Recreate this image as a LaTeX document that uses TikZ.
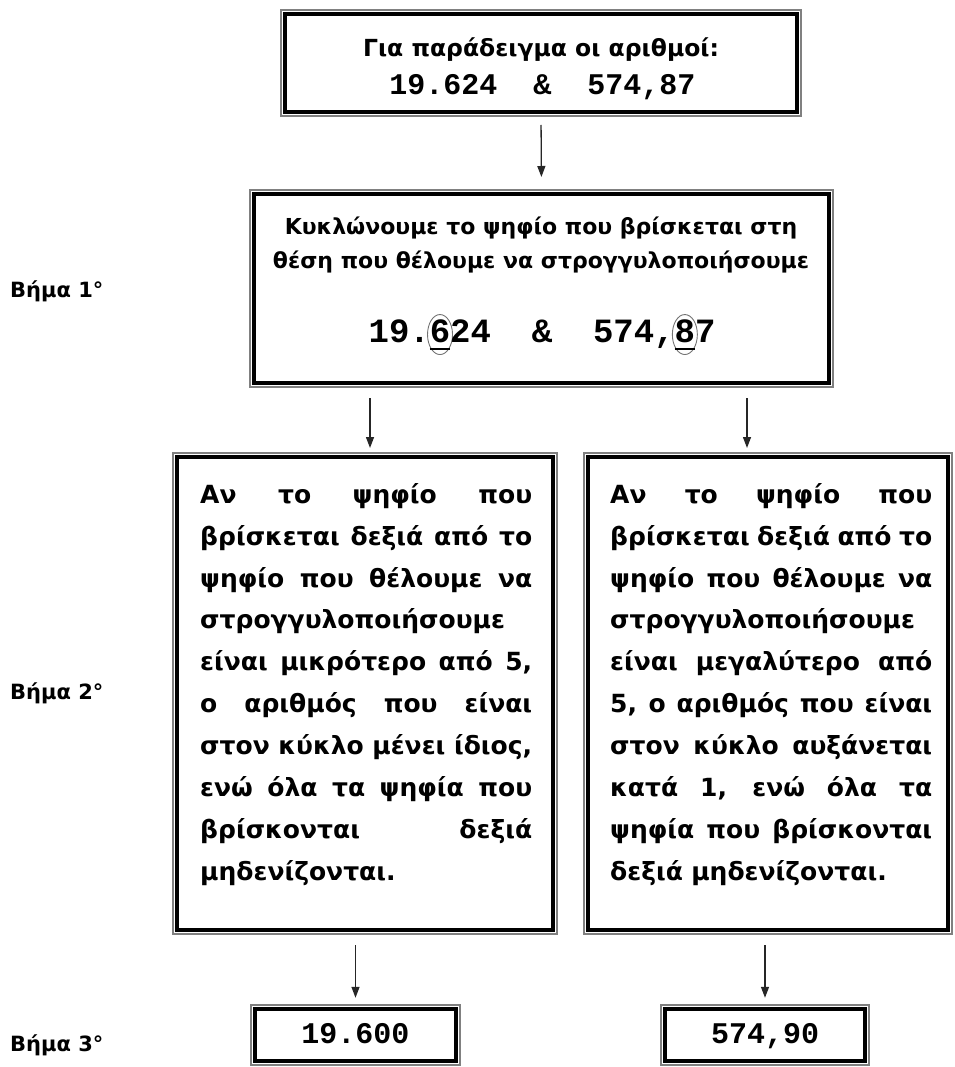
\documentclass[tikz,border=0pt]{standalone}
\usepackage{fontspec}
\setmainfont{DejaVu Sans}
\setmonofont{Liberation Mono}
\usetikzlibrary{arrows.meta,positioning,calc,shapes.geometric}
\definecolor{framegray}{gray}{0.5}
\definecolor{ringgray}{gray}{0.45}
\newcommand{\jl}[1]{\makebox[\hsize][s]{\spaceskip=0pt\xspaceskip=0pt\relax #1}}
\newcommand{\uln}[1]{\rlap{\rule[-0.23em]{0.6em}{0.055em}}#1}

\begin{document}
\begin{tikzpicture}[x=1pt, y=-1pt,
    dblframe/.style={draw=framegray, line width=1.6pt, inner sep=0pt, outer sep=0.8pt,
      path picture={\draw[black, line width=4.6pt]
        ([shift={(4.3pt,4.3pt)}]path picture bounding box.south west) rectangle
        ([shift={(-4.3pt,-4.3pt)}]path picture bounding box.north east);}},
    grk/.style={font=\bfseries\fontsize{#1}{#1}\selectfont, inner sep=0pt},
    mono/.style={font=\ttfamily\bfseries\fontsize{#1}{#1}\selectfont, inner sep=0pt, outer sep=0pt},
    para/.style={font=\bfseries\fontsize{25}{41.9}\selectfont, align=left, inner sep=0pt, anchor=north west},
    digitring/.style={ellipse, draw=ringgray, line width=0.9pt, inner xsep=-3pt, inner ysep=-4pt,
      minimum width=25pt, minimum height=40pt},
    arr/.style={-{Triangle[length=11pt,width=8pt]}, line width=1.3pt, black!85},
    steplbl/.style={grk=21, anchor=base west}]
  \useasboundingbox (0,0) rectangle (954,1067);

  % frames
  \node[dblframe, minimum width=520.4pt, minimum height=106.4pt] (b0) at (541,63) {};
  \node[dblframe, minimum width=583.4pt, minimum height=197.4pt] (b1) at (541.5,288.5) {};
  \node[dblframe, minimum width=384.4pt, minimum height=481.4pt] (b2L) at (365,693.5) {};
  \node[dblframe, minimum width=368.4pt, minimum height=481.4pt] (b2R) at (768,693.5) {};
  \node[dblframe, mono=30, text height=19pt, text depth=3pt,
        minimum width=209.4pt, minimum height=60.4pt] (b3L) at (355.5,1035) {19.600};
  \node[dblframe, mono=30, text height=19pt, text depth=3pt,
        minimum width=208.4pt, minimum height=60.4pt] (b3R) at (765,1035) {574,90};

  % step labels
  \node[steplbl] (s1) at (10,297) {Βήμα 1°};
  \node[steplbl] (s2) at (10,699) {Βήμα 2°};
  \node[steplbl] (s3) at (10,1051) {Βήμα 3°};

  % texts
  \node[grk=23.5, anchor=base] (t0) at (541,57) {Για παράδειγμα οι αριθμοί:};
  \node[mono=30, anchor=base] (t0n) at (542.5,95) {19.624~~\&~~574,87};
  \node[grk=22, anchor=base] (t1a) at (541,235) {Κυκλώνουμε το ψηφίο που βρίσκεται στη};
  \node[grk=22, anchor=base] (t1b) at (541,269) {θέση που θέλουμε να στρογγυλοποιήσουμε};

  \node[mono=34, anchor=base west] (n1a) at (368.6,342) {19.};
  \node[mono=34, digitring, anchor=text] (r6) at (n1a.base east) {\uln{6}};
  \node[mono=34, anchor=base west] (n1b) at ($(n1a.base east)+(20.4pt,0)$) {24~~\&~~574,};
  \node[mono=34, digitring, anchor=text] (r8) at (n1b.base east) {\uln{8}};
  \node[mono=34, anchor=base west] (n1c) at ($(n1b.base east)+(20.4pt,0)$) {7};

  \node[para, text width=332pt] (p2L) at (200,473.7) {\strut
    \jl{Αν το ψηφίο που}\\
    \jl{βρίσκεται δεξιά από το}\\
    \jl{ψηφίο που θέλουμε να}\\
    στρογγυλοποιήσουμε\\
    \jl{είναι μικρότερο από 5,}\\
    \jl{ο αριθμός που είναι}\\
    \jl{στον κύκλο μένει ίδιος,}\\
    \jl{ενώ όλα τα ψηφία που}\\
    \jl{βρίσκονται δεξιά}\\
    μηδενίζονται.};
  \node[para, text width=322pt] (p2R) at (610,473.7) {\strut
    \jl{Αν το ψηφίο που}\\
    \jl{βρίσκεται δεξιά από το}\\
    \jl{ψηφίο που θέλουμε να}\\
    στρογγυλοποιήσουμε\\
    \jl{είναι μεγαλύτερο από}\\
    \jl{5, ο αριθμός που είναι}\\
    \jl{στον κύκλο αυξάνεται}\\
    \jl{κατά 1, ενώ όλα τα}\\
    \jl{ψηφία που βρίσκονται}\\
    δεξιά μηδενίζονται.};

  % arrows
  \draw[arr, shorten <=8pt, shorten >=12pt] (b0.south) -- (b1.north);
  \draw[arr, shorten <=10pt, shorten >=4pt] ($(b2L.north |- b1.south)+(5pt,0)$) -- ($(b2L.north)+(5pt,0)$);
  \draw[arr, shorten <=10pt, shorten >=4pt] ($(b2R.north |- b1.south)+(-21pt,0)$) -- ($(b2R.north)+(-21pt,0)$);
  \draw[arr, shorten <=10pt, shorten >=7pt] (b2L.south -| b3L.north) -- (b3L.north);
  \draw[arr, shorten <=10pt, shorten >=7pt] (b2R.south -| b3R.north) -- (b3R.north);
\end{tikzpicture}
\end{document}
